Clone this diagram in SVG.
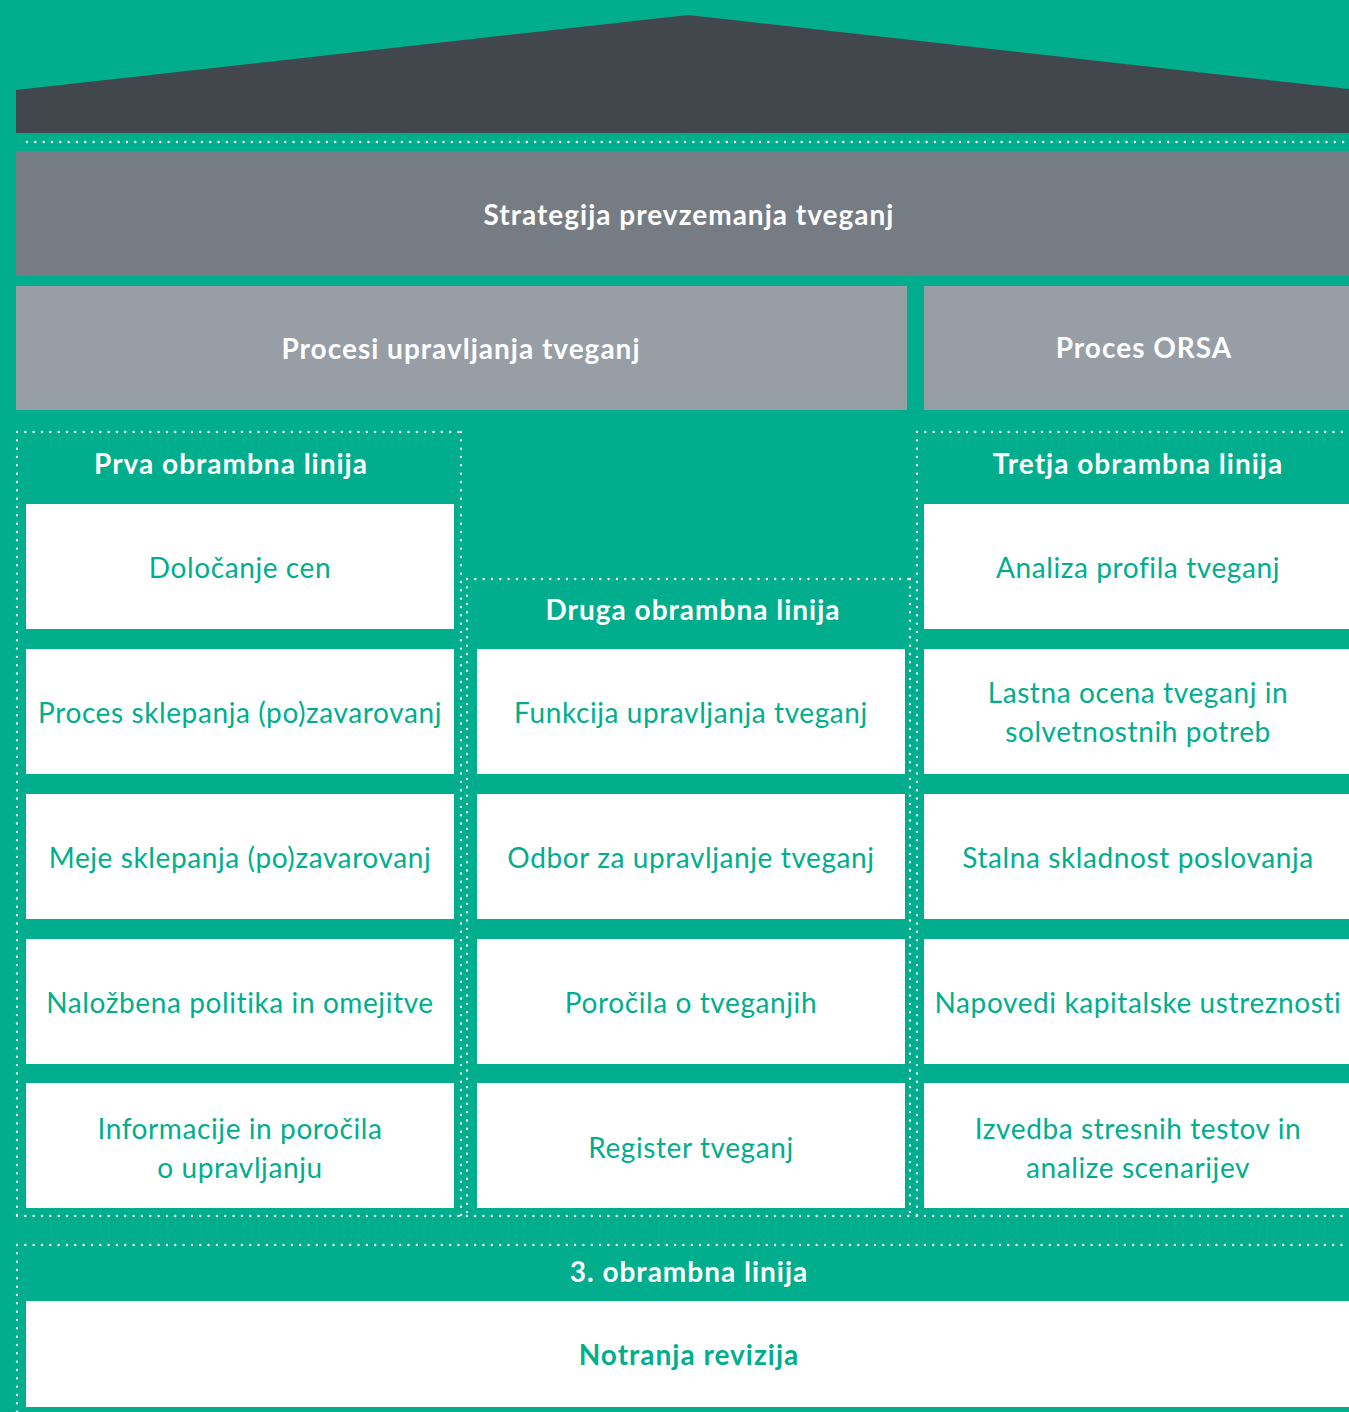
<svg xmlns="http://www.w3.org/2000/svg" width="1349" height="1412" viewBox="0 0 1349 1412">
<style>
.bg{fill:#00AE8E}
.box{fill:#FFFFFF}
.dot{fill:none;stroke:#FFFFFF;stroke-width:2.4;stroke-linecap:round;stroke-dasharray:0 8.33}
.t{font-family:Lato,"Open Sans","Liberation Sans",sans-serif;font-size:28px;fill:#00AE8E;text-anchor:middle;letter-spacing:0.6px}
.h{font-family:Lato,"Open Sans","Liberation Sans",sans-serif;font-size:28px;font-weight:700;fill:#FFFFFF;text-anchor:middle;letter-spacing:1px}
.hb{font-family:Lato,"Open Sans","Liberation Sans",sans-serif;font-size:28px;font-weight:700;fill:#00AE8E;text-anchor:middle;letter-spacing:1px}
</style>
<rect class="bg" x="0" y="0" width="1349" height="1412"/>
<g id="roof">
<polygon points="16,90 688,15 1349,89 1349,133 16,133" fill="#42474E"/>
</g>
<g id="strategija">
<rect x="16" y="151" width="1333" height="125" fill="#767C83"/>
<text class="h" x="689" y="225">Strategija prevzemanja tveganj</text>
</g>
<g id="procesi">
<rect x="16" y="286" width="891" height="124" fill="#979EA6"/>
<text class="h" x="461" y="359">Procesi upravljanja tveganj</text>
</g>
<g id="orsa">
<rect x="924" y="286" width="425" height="124" fill="#979EA6"/>
<text class="h" x="1144" y="358">Proces ORSA</text>
</g>
<g id="dots">
<path class="dot" d="M27,142 H1349"/>
<path class="dot" d="M17,432 H461 M17,432 V1216 M461,432 V1216 M17,1216 H1349"/>
<path class="dot" d="M467,579 H910 M467,579 V1216 M910,579 V1216"/>
<path class="dot" d="M917,432 H1349 M917,432 V1216"/>
<path class="dot" d="M17,1245 H1349 M17,1245 V1412"/>
</g>
<g id="prva">
<text class="h" x="231" y="474">Prva obrambna linija</text>
</g>
<g id="druga">
<text class="h" x="693" y="620">Druga obrambna linija</text>
</g>
<g id="tretja">
<text class="h" x="1138" y="474">Tretja obrambna linija</text>
</g>
<g id="c1r1"><rect class="box" x="26" y="504" width="428" height="125"/><text class="t" x="240" y="578">Določanje cen</text></g>
<g id="c1r2"><rect class="box" x="26" y="649" width="428" height="125"/><text class="t" x="240" y="723">Proces sklepanja (po)zavarovanj</text></g>
<g id="c1r3"><rect class="box" x="26" y="794" width="428" height="125"/><text class="t" x="240" y="868">Meje sklepanja (po)zavarovanj</text></g>
<g id="c1r4"><rect class="box" x="26" y="939" width="428" height="125"/><text class="t" x="240" y="1013">Naložbena politika in omejitve</text></g>
<g id="c1r5"><rect class="box" x="26" y="1083" width="428" height="125"/><text class="t" x="240" y="1139">Informacije in poročila</text><text class="t" x="240" y="1178">o upravljanju</text></g>
<g id="c2r2"><rect class="box" x="477" y="649" width="428" height="125"/><text class="t" x="691" y="723">Funkcija upravljanja tveganj</text></g>
<g id="c2r3"><rect class="box" x="477" y="794" width="428" height="125"/><text class="t" x="691" y="868">Odbor za upravljanje tveganj</text></g>
<g id="c2r4"><rect class="box" x="477" y="939" width="428" height="125"/><text class="t" x="691" y="1013">Poročila o tveganjih</text></g>
<g id="c2r5"><rect class="box" x="477" y="1083" width="428" height="125"/><text class="t" x="691" y="1158">Register tveganj</text></g>
<g id="c3r1"><rect class="box" x="924" y="504" width="425" height="125"/><text class="t" x="1138" y="578">Analiza profila tveganj</text></g>
<g id="c3r2"><rect class="box" x="924" y="649" width="425" height="125"/><text class="t" x="1138" y="703">Lastna ocena tveganj in</text><text class="t" x="1138" y="742">solvetnostnih potreb</text></g>
<g id="c3r3"><rect class="box" x="924" y="794" width="425" height="125"/><text class="t" x="1138" y="868">Stalna skladnost poslovanja</text></g>
<g id="c3r4"><rect class="box" x="924" y="939" width="425" height="125"/><text class="t" x="1138" y="1013">Napovedi kapitalske ustreznosti</text></g>
<g id="c3r5"><rect class="box" x="924" y="1083" width="425" height="125"/><text class="t" x="1138" y="1139">Izvedba stresnih testov in</text><text class="t" x="1138" y="1178">analize scenarijev</text></g>
<g id="tretja3">
<text class="h" x="689" y="1282">3. obrambna linija</text>
</g>
<g id="revizija"><rect class="box" x="26" y="1301" width="1323" height="106"/><text class="hb" x="689" y="1365">Notranja revizija</text></g>
</svg>
